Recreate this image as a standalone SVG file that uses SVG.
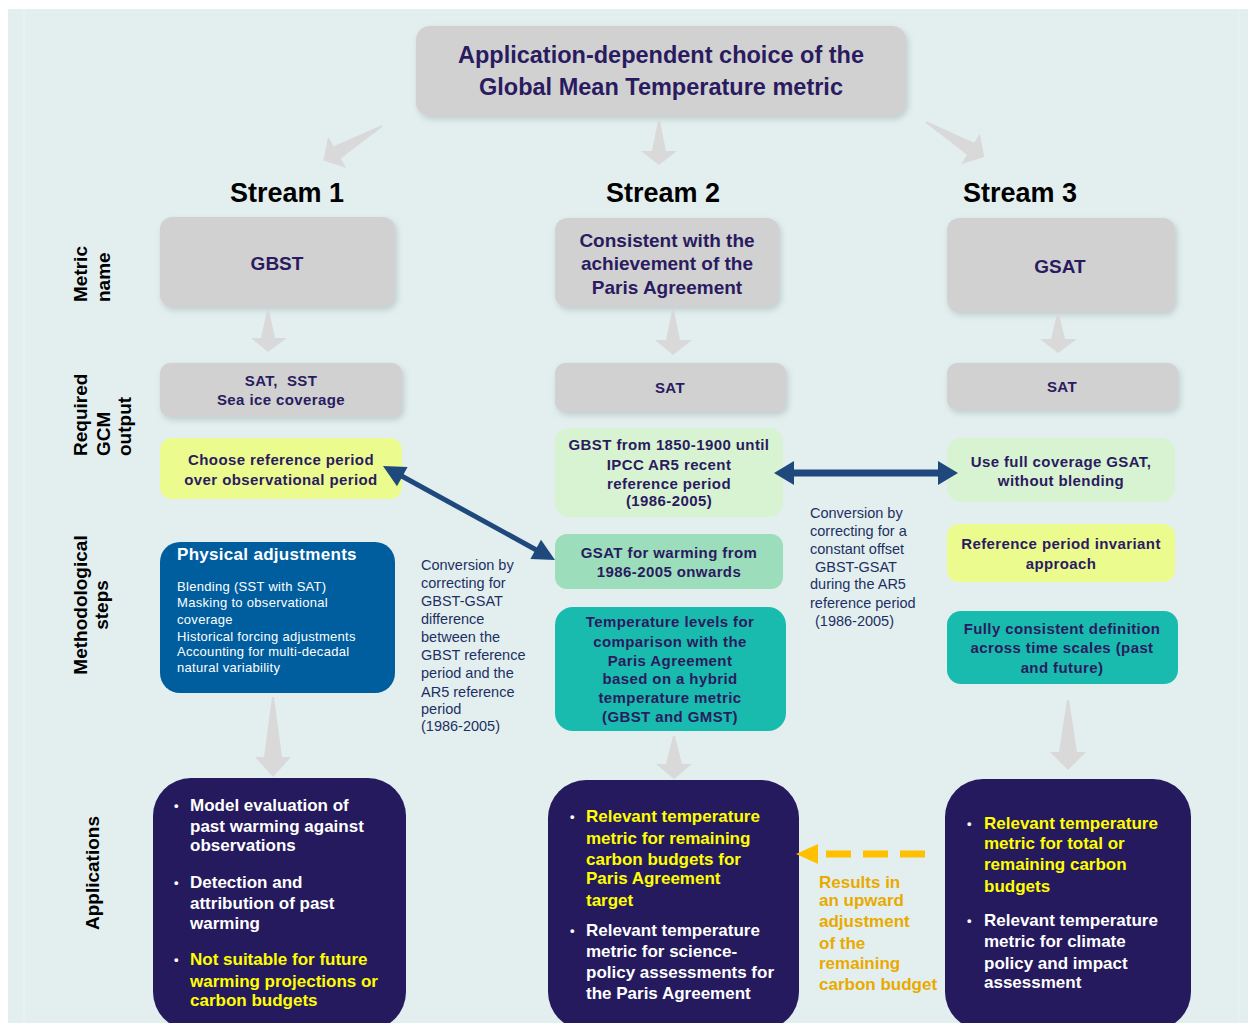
<svg xmlns="http://www.w3.org/2000/svg" width="1255" height="1023" viewBox="0 0 1255 1023">
<defs>
<style>
.f{font-family:"Liberation Sans",Arial,Helvetica,sans-serif}
.dk{fill:#2A1B60;font-weight:bold}
.b15{font-size:15px;letter-spacing:0.4px}
.b19{font-size:19px}
.gray{fill:#D1D1D1}
.lg{fill:#D8F3D1}
.yl{fill:#ECFB8E}
.md{fill:#9CDDBC}
.tl{fill:#18BBAD}
.app{fill:#251A5D}
.spike{fill:#D9D9D9}
.stream{font-size:27px;font-weight:bold;fill:#000}
.row{font-size:19px;font-weight:bold;fill:#000}
.conv{font-size:14.5px;fill:#1E2F63}
.ap{font-size:17px;font-weight:bold}
.w{fill:#FFFFFF}
.y{fill:#FFFF00}
.res{font-size:17px;font-weight:bold;fill:#E9AA00}
.blue{fill:#1F497D}
</style>
<filter id="sh" x="-10%" y="-10%" width="125%" height="130%">
<feDropShadow dx="2" dy="3" stdDeviation="3" flood-color="#7A8A8A" flood-opacity="0.35"/>
</filter>
</defs>

<rect x="8" y="9" width="1240" height="1014" fill="#E3EFEF"/>
<line x1="24" y1="9" x2="24" y2="1023" stroke="#EAF3F3" stroke-width="1"/>
<line x1="1239" y1="9" x2="1239" y2="1023" stroke="#EAF3F3" stroke-width="1"/>

<g id="title">
<rect x="416" y="26" width="490" height="90" rx="14" class="gray" filter="url(#sh)"/>
<text class="f dk" font-size="23.5" text-anchor="middle" x="661" y="63">Application-dependent choice of the</text>
<text class="f dk" font-size="23.5" text-anchor="middle" x="661" y="95">Global Mean Temperature metric</text>
</g>

<g id="streams">
<text class="f stream" text-anchor="middle" x="287" y="202">Stream 1</text>
<text class="f stream" text-anchor="middle" x="663" y="202">Stream 2</text>
<text class="f stream" text-anchor="middle" x="1020" y="202">Stream 3</text>
</g>

<g id="row-labels">
<text class="f row" transform="translate(87,302) rotate(-90)">Metric</text>
<text class="f row" transform="translate(110,302) rotate(-90)">name</text>
<text class="f row" transform="translate(87,456) rotate(-90)">Required</text>
<text class="f row" transform="translate(110,456) rotate(-90)">GCM</text>
<text class="f row" transform="translate(131,456) rotate(-90)">output</text>
<text class="f row" text-anchor="middle" transform="translate(87,605) rotate(-90)">Methodological</text>
<text class="f row" text-anchor="middle" transform="translate(108,605) rotate(-90)">steps</text>
<text class="f row" text-anchor="middle" transform="translate(99,873) rotate(-90)">Applications</text>
</g>

<g id="s1-metric">
<rect x="160" y="217" width="235" height="90" rx="12" class="gray" filter="url(#sh)"/>
<text class="f dk b19" text-anchor="middle" x="277" y="270">GBST</text>
</g>
<g id="s1-output">
<rect x="160" y="363" width="242" height="54" rx="10" class="gray" filter="url(#sh)"/>
<text class="f dk b15" text-anchor="middle" x="281" y="386">SAT,&#160; SST</text>
<text class="f dk b15" text-anchor="middle" x="281" y="405">Sea ice coverage</text>
</g>
<g id="s1-reference">
<rect x="160" y="438" width="242" height="61" rx="12" class="yl"/>
<text class="f dk b15" text-anchor="middle" x="281" y="465">Choose reference period</text>
<text class="f dk b15" text-anchor="middle" x="281" y="485">over observational period</text>
</g>
<g id="s1-physical">
<rect x="160" y="542" width="235" height="151" rx="20" fill="#005E9F"/>
<text class="f" font-size="17" font-weight="bold" fill="#FFFFFF" letter-spacing="0.3" x="177" y="560">Physical adjustments</text>
<g class="f" font-size="13" fill="#FFFFFF" letter-spacing="0.3">
<text x="177" y="591">Blending (SST with SAT)</text>
<text x="177" y="607">Masking to observational</text>
<text x="177" y="624">coverage</text>
<text x="177" y="641">Historical forcing adjustments</text>
<text x="177" y="656">Accounting for multi-decadal</text>
<text x="177" y="672">natural variability</text>
</g>
</g>
<g id="s1-applications">
<rect x="153" y="778" width="253" height="252" rx="38" class="app"/>
<g class="f ap w">
<text x="174" y="810" font-size="13">•</text>
<text x="190" y="811">Model evaluation of</text>
<text x="190" y="832">past warming against</text>
<text x="190" y="851">observations</text>
<text x="174" y="887" font-size="13">•</text>
<text x="190" y="888">Detection and</text>
<text x="190" y="909">attribution of past</text>
<text x="190" y="929">warming</text>
<text x="174" y="964" font-size="13">•</text>
</g>
<g class="f ap y">
<text x="190" y="965">Not suitable for future</text>
<text x="190" y="987">warming projections or</text>
<text x="190" y="1006">carbon budgets</text>
</g>
</g>

<g id="s2-metric">
<rect x="555" y="218" width="224" height="89" rx="12" class="gray" filter="url(#sh)"/>
<text class="f dk b19" text-anchor="middle" x="667" y="247">Consistent with the</text>
<text class="f dk b19" text-anchor="middle" x="667" y="270">achievement of the</text>
<text class="f dk b19" text-anchor="middle" x="667" y="294">Paris Agreement</text>
</g>
<g id="s2-output">
<rect x="555" y="363" width="231" height="49" rx="10" class="gray" filter="url(#sh)"/>
<text class="f dk b15" text-anchor="middle" x="670" y="393">SAT</text>
</g>
<g id="s2-gbst">
<rect x="555" y="428" width="228" height="89" rx="14" class="lg"/>
<text class="f dk b15" text-anchor="middle" x="669" y="450">GBST from 1850-1900 until</text>
<text class="f dk b15" text-anchor="middle" x="669" y="470">IPCC AR5 recent</text>
<text class="f dk b15" text-anchor="middle" x="669" y="489">reference period</text>
<text class="f dk b15" text-anchor="middle" x="669" y="506">(1986-2005)</text>
</g>
<g id="s2-gsat">
<rect x="555" y="534" width="228" height="55" rx="12" class="md"/>
<text class="f dk b15" text-anchor="middle" x="669" y="558">GSAT for warming from</text>
<text class="f dk b15" text-anchor="middle" x="669" y="577">1986-2005 onwards</text>
</g>
<g id="s2-levels">
<rect x="555" y="607" width="231" height="124" rx="18" class="tl"/>
<text class="f dk b15" text-anchor="middle" x="670" y="627">Temperature levels for</text>
<text class="f dk b15" text-anchor="middle" x="670" y="647">comparison with the</text>
<text class="f dk b15" text-anchor="middle" x="670" y="666">Paris Agreement</text>
<text class="f dk b15" text-anchor="middle" x="670" y="684">based on a hybrid</text>
<text class="f dk b15" text-anchor="middle" x="670" y="703">temperature metric</text>
<text class="f dk b15" text-anchor="middle" x="670" y="722">(GBST and GMST)</text>
</g>
<g id="s2-applications">
<rect x="548" y="780" width="251" height="250" rx="38" class="app"/>
<g class="f ap y">
<text x="570" y="821" font-size="13" class="w">•</text>
<text x="586" y="822">Relevant temperature</text>
<text x="586" y="844">metric for remaining</text>
<text x="586" y="865">carbon budgets for</text>
<text x="586" y="884">Paris Agreement</text>
<text x="586" y="906">target</text>
</g>
<g class="f ap w">
<text x="570" y="935" font-size="13">•</text>
<text x="586" y="936">Relevant temperature</text>
<text x="586" y="957">metric for science-</text>
<text x="586" y="978">policy assessments for</text>
<text x="586" y="999">the Paris Agreement</text>
</g>
</g>

<g id="s3-metric">
<rect x="947" y="218" width="228" height="94" rx="12" class="gray" filter="url(#sh)"/>
<text class="f dk b19" text-anchor="middle" x="1060" y="273">GSAT</text>
</g>
<g id="s3-output">
<rect x="947" y="363" width="231" height="47" rx="10" class="gray" filter="url(#sh)"/>
<text class="f dk b15" text-anchor="middle" x="1062" y="392">SAT</text>
</g>
<g id="s3-fullcoverage">
<rect x="947" y="438" width="228" height="64" rx="14" class="lg"/>
<text class="f dk b15" text-anchor="middle" x="1061" y="467">Use full coverage GSAT,</text>
<text class="f dk b15" text-anchor="middle" x="1061" y="486">without blending</text>
</g>
<g id="s3-invariant">
<rect x="947" y="524" width="228" height="58" rx="12" class="yl"/>
<text class="f dk b15" text-anchor="middle" x="1061" y="549">Reference period invariant</text>
<text class="f dk b15" text-anchor="middle" x="1061" y="569">approach</text>
</g>
<g id="s3-consistent">
<rect x="947" y="611" width="231" height="73" rx="14" class="tl"/>
<text class="f dk b15" text-anchor="middle" x="1062" y="634">Fully consistent definition</text>
<text class="f dk b15" text-anchor="middle" x="1062" y="653">across time scales (past</text>
<text class="f dk b15" text-anchor="middle" x="1062" y="673">and future)</text>
</g>
<g id="s3-applications">
<rect x="945" y="779" width="246" height="251" rx="38" class="app"/>
<g class="f ap y">
<text x="967" y="828" font-size="13" class="w">•</text>
<text x="984" y="829">Relevant temperature</text>
<text x="984" y="849">metric for total or</text>
<text x="984" y="870">remaining carbon</text>
<text x="984" y="892">budgets</text>
</g>
<g class="f ap w">
<text x="967" y="925" font-size="13">•</text>
<text x="984" y="926">Relevant temperature</text>
<text x="984" y="947">metric for climate</text>
<text x="984" y="969">policy and impact</text>
<text x="984" y="988">assessment</text>
</g>
</g>

<g id="note-left" class="f conv">
<text x="421" y="570">Conversion by</text>
<text x="421" y="588">correcting for</text>
<text x="421" y="606">GBST-GSAT</text>
<text x="421" y="624">difference</text>
<text x="421" y="642">between the</text>
<text x="421" y="660">GBST reference</text>
<text x="421" y="678">period and the</text>
<text x="421" y="697">AR5 reference</text>
<text x="421" y="714">period</text>
<text x="421" y="731">(1986-2005)</text>
</g>
<g id="note-right" class="f conv">
<text x="810" y="518">Conversion by</text>
<text x="810" y="536">correcting for a</text>
<text x="810" y="554">constant offset</text>
<text x="815" y="572">GBST-GSAT</text>
<text x="810" y="589">during the AR5</text>
<text x="810" y="608">reference period</text>
<text x="815" y="626">(1986-2005)</text>
</g>
<g id="note-results" class="f res">
<text x="819" y="888">Results in</text>
<text x="819" y="906">an upward</text>
<text x="819" y="927">adjustment</text>
<text x="819" y="949">of the</text>
<text x="819" y="969">remaining</text>
<text x="819" y="990">carbon budget</text>
</g>

<g id="connectors">
<polygon class="spike" points="-1,0 1,0 7,52 18,52 0,68 -18,52 -7,52" transform="translate(382,126) rotate(59.5)"/>
<polygon class="spike" points="658,121 660,121 666,151 677,151 659,165 641,151 652,151"/>
<polygon class="spike" points="-1,0 1,0 7,52 18,52 0,68 -18,52 -7,52" transform="translate(926,122) rotate(-58.9)"/>
<polygon class="spike" points="267,310 269,310 275,338 287,338 268,352 251,338 261,338"/>
<polygon class="spike" points="672,310 674,310 680,340 692,340 673,355 655,340 666,340"/>
<polygon class="spike" points="1057,314 1059,314 1065,339 1077,339 1058,353 1040,339 1051,339"/>
<polygon class="spike" points="272,697 274,697 282,757 291,757 273,777 255,757 264,757"/>
<polygon class="spike" points="673,736 675,736 682,764 692,764 674,779 656,764 666,764"/>
<polygon class="spike" points="1067,700 1069,700 1077,752 1086,752 1068,770 1050,752 1059,752"/>
<line x1="398" y1="474" x2="540" y2="552" stroke="#1F497D" stroke-width="5"/>
<polygon class="blue" points="383,466 397,486.3 407.6,466.9"/>
<polygon class="blue" points="555,560 530.4,559.1 541,539.7"/>
<line x1="792" y1="473" x2="940" y2="473" stroke="#1F497D" stroke-width="7"/>
<polygon class="blue" points="774,473 794,461 794,485"/>
<polygon class="blue" points="958,473 938,461 938,485"/>
<path d="M925 854 H818" stroke="#FFC000" stroke-width="7" stroke-dasharray="25 12" fill="none"/>
<polygon points="796,854 818,844 818,864" fill="#FFC000"/>
</g>
</svg>
